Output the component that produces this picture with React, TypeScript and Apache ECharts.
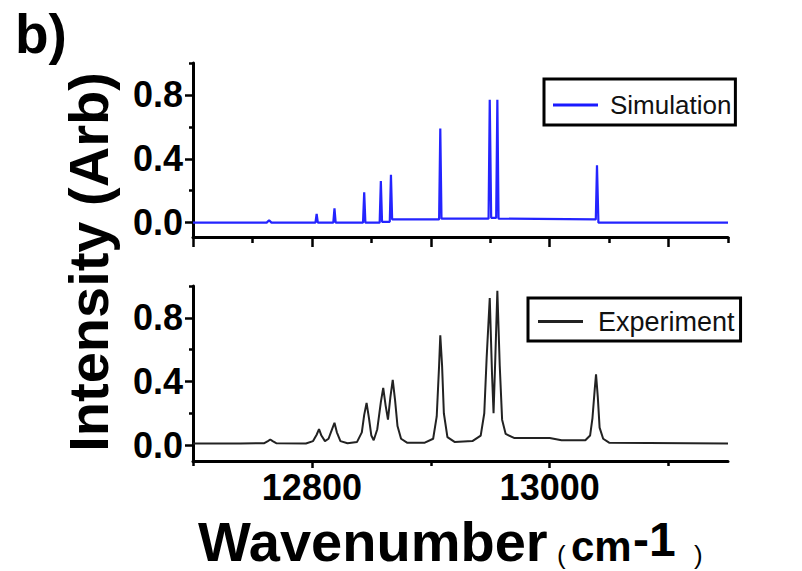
import React, { useEffect, useRef } from "react";
import * as echarts from "echarts";

// Simulated spectrum (wavenumber in cm-1, normalised intensity)
const simWavenumber = [
  12700, 12762, 12764, 12766, 12803, 12804, 12805, 12818, 12819, 12820,
  12843, 12844, 12845, 12857, 12858, 12859, 12865.5, 12866.5, 12867.5,
  12907, 12908, 12909, 12948.6, 12949.6, 12950.8, 12955, 12956, 12957,
  13038.8, 13039.8, 13041, 13150,
];
const simIntensity = [
  0, 0, 0.015, 0, 0, 0.055, 0, 0, 0.09, 0,
  0, 0.19, 0, 0, 0.26, 0.005, 0.005, 0.3, 0.02,
  0.02, 0.59, 0.025, 0.025, 0.77, 0.03, 0.03, 0.77, 0.025,
  0.02, 0.36, 0, 0,
];

// Measured spectrum
const expWavenumber = [
  12700, 12740, 12760, 12763, 12765, 12767, 12770, 12795, 12801, 12804,
  12806, 12808, 12811, 12814, 12817, 12819, 12821, 12824, 12830, 12838,
  12842, 12844, 12846, 12848, 12850, 12852, 12855, 12858, 12860, 12862,
  12864, 12866, 12868, 12870, 12872, 12875, 12880, 12895, 12902, 12905,
  12907, 12908, 12909.5, 12911, 12914, 12920, 12935, 12942, 12945, 12947,
  12949.6, 12951.5, 12952.8, 12954.3, 12956, 12958, 12960, 12963, 12970, 13000,
  13010, 13030, 13034, 13036, 13038, 13039, 13040.5, 13042, 13045, 13050,
  13150,
];
const expIntensity = [
  0.01, 0.01, 0.012, 0.025, 0.035, 0.025, 0.012, 0.01, 0.025, 0.065,
  0.1, 0.06, 0.025, 0.04, 0.1, 0.14, 0.08, 0.025, 0.012, 0.02,
  0.08, 0.19, 0.265, 0.17, 0.06, 0.03, 0.1, 0.27, 0.36, 0.25,
  0.16, 0.3, 0.41, 0.28, 0.12, 0.04, 0.015, 0.015, 0.04, 0.18,
  0.5, 0.69, 0.5, 0.2, 0.05, 0.02, 0.025, 0.06, 0.2, 0.55,
  0.925, 0.45, 0.2, 0.55, 0.97, 0.5, 0.16, 0.07, 0.045, 0.045,
  0.03, 0.03, 0.06, 0.17, 0.36, 0.445, 0.3, 0.11, 0.04, 0.015,
  0.01,
];

// Axis ticks
const xMajorTicksTop = [12700, 12800, 12900, 13000, 13100];
const xMinorTicksTop = [12750, 12850, 12950, 13050, 13150];
const xLabelTicks = [12800, 13000];
const xMinorTicksBottom = [12700, 12900, 13100];
const yLabelTicks = [0, 0.4, 0.8];
const yMinorTicks = [0.2, 0.6, 1.0];

const X_MIN = 12700;
const X_MAX = 13150;

const FONT = "'Liberation Sans', Arial, Helvetica, sans-serif";
const AXIS_COLOR = "#000";

function xAxisDef(gridIndex: number, opts: any) {
  return {
    type: "value",
    gridIndex,
    position: "bottom",
    min: X_MIN,
    max: X_MAX,
    splitLine: { show: false },
    axisLine: {
      show: opts.line,
      onZero: false,
      lineStyle: { color: AXIS_COLOR, width: 3 },
    },
    axisTick: {
      show: true,
      inside: false,
      length: opts.tickLen,
      customValues: opts.ticks,
      lineStyle: { color: AXIS_COLOR, width: 2.5 },
    },
    axisLabel: opts.labels
      ? {
          show: true,
          customValues: opts.labels,
          margin: 8,
          color: "#000",
          fontFamily: FONT,
          fontWeight: "bold",
          fontSize: 36,
          formatter: (v: number) => String(v),
        }
      : { show: false },
  };
}

function yAxisDef(gridIndex: number, min: number, opts: any) {
  return {
    type: "value",
    gridIndex,
    position: "left",
    min,
    max: 1.0,
    splitLine: { show: false },
    axisLine: {
      show: opts.line,
      onZero: false,
      lineStyle: { color: AXIS_COLOR, width: 3 },
    },
    axisTick: {
      show: true,
      inside: false,
      length: opts.tickLen,
      customValues: opts.ticks,
      lineStyle: { color: AXIS_COLOR, width: 2.5 },
    },
    axisLabel: opts.labels
      ? {
          show: true,
          customValues: opts.labels,
          margin: 10,
          color: "#000",
          fontFamily: FONT,
          fontWeight: "bold",
          fontSize: 36,
          formatter: (v: number) => v.toFixed(1),
        }
      : { show: false },
  };
}

function legendDef(name: string, left: number, top: number, padding: number[], fontSize: number, textPad: number) {
  return {
    data: [name],
    left,
    top,
    orient: "horizontal",
    selectedMode: false,
    backgroundColor: "#fff",
    borderColor: "#000",
    borderWidth: 3,
    borderRadius: 0,
    padding,
    icon: "rect",
    itemWidth: 45,
    itemHeight: 3,
    textStyle: {
      fontFamily: FONT,
      fontSize,
      color: "#111",
      padding: [0, 0, 0, textPad],
    },
  };
}

export default function App() {
  const ref = useRef<HTMLDivElement>(null);

  useEffect(() => {
    if (!ref.current) return;
    const chart = echarts.init(ref.current, undefined, { renderer: "svg" });

    const simData = simWavenumber.map((w, i) => [w, simIntensity[i]]);
    const expData = expWavenumber.map((w, i) => [w, expIntensity[i]]);

    chart.setOption({
      animation: false,
      backgroundColor: "#fff",
      grid: [
        { left: 193, right: 74, top: 63, height: 174 },
        { left: 193, right: 74, top: 286, height: 175 },
      ],
      xAxis: [
        xAxisDef(0, { line: true, tickLen: 10, ticks: xMajorTicksTop }),
        xAxisDef(0, { line: false, tickLen: 6, ticks: xMinorTicksTop }),
        xAxisDef(1, { line: true, tickLen: 7, ticks: xLabelTicks, labels: xLabelTicks }),
        xAxisDef(1, { line: false, tickLen: 5, ticks: xMinorTicksBottom }),
      ],
      yAxis: [
        yAxisDef(0, -0.09, { line: true, tickLen: 8, ticks: yLabelTicks, labels: yLabelTicks }),
        yAxisDef(0, -0.09, { line: false, tickLen: 4, ticks: yMinorTicks }),
        yAxisDef(1, -0.1, { line: true, tickLen: 8, ticks: yLabelTicks, labels: yLabelTicks }),
        yAxisDef(1, -0.1, { line: false, tickLen: 4, ticks: yMinorTicks }),
      ],
      legend: [
        legendDef("Simulation", 544, 79, [13, 4, 7, 9], 26, 7),
        legendDef("Experiment", 528, 298, [10, 6, 6, 10], 27, 10),
      ],
      series: [
        {
          name: "Simulation",
          type: "line",
          xAxisIndex: 0,
          yAxisIndex: 0,
          data: simData,
          symbol: "none",
          color: "#1a1aff",
          lineStyle: { color: "#2424ff", width: 2.2 },
          silent: true,
        },
        {
          name: "Experiment",
          type: "line",
          xAxisIndex: 2,
          yAxisIndex: 2,
          data: expData,
          symbol: "none",
          color: "#222",
          lineStyle: { color: "#222", width: 2 },
          silent: true,
        },
      ],
      graphic: [
        {
          type: "text",
          left: 15,
          top: 6,
          style: { text: "b)", font: `bold 55px ${FONT}`, fill: "#000" },
        },
        {
          type: "text",
          x: 88,
          y: 262,
          rotation: Math.PI / 2,
          style: {
            text: "Intensity (Arb)",
            font: `bold 56px ${FONT}`,
            fill: "#000",
            align: "center",
            verticalAlign: "middle",
          },
        },
        {
          type: "group",
          children: [
            {
              type: "text",
              x: 198,
              y: 541,
              style: { text: "Wavenumber", font: `bold 56px ${FONT}`, fill: "#000", align: "left", verticalAlign: "middle" },
            },
            {
              type: "text",
              x: 557,
              y: 555,
              style: { text: "(", font: `26px ${FONT}`, fill: "#000", align: "left", verticalAlign: "middle" },
            },
            {
              type: "text",
              x: 571,
              y: 546,
              style: { text: "cm", font: `bold 42px ${FONT}`, fill: "#000", align: "left", verticalAlign: "middle" },
            },
            {
              type: "text",
              x: 633,
              y: 539,
              style: { text: "-1", font: `bold 48px ${FONT}`, fill: "#000", align: "left", verticalAlign: "middle" },
            },
            {
              type: "text",
              x: 694,
              y: 555,
              style: { text: ")", font: `26px ${FONT}`, fill: "#000", align: "left", verticalAlign: "middle" },
            },
          ],
        },
      ],
    });

    return () => chart.dispose();
  }, []);

  return (
    <div
      ref={ref}
      style={{ position: "fixed", left: 0, top: 0, width: 802, height: 571, background: "#fff" }}
    />
  );
}
